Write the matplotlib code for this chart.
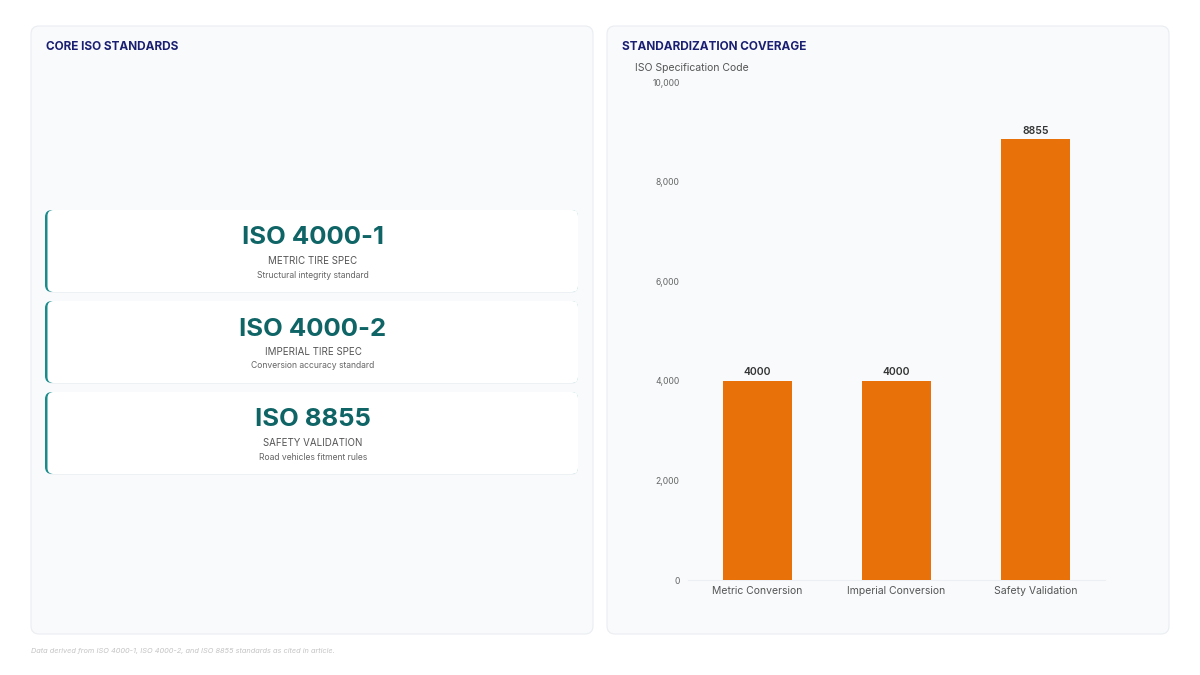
import matplotlib.pyplot as plt
from matplotlib.patches import FancyBboxPatch
from matplotlib.ticker import FuncFormatter

plt.rcParams['font.family'] = ['Inter', 'DejaVu Sans']

# data
categories = ["Metric Conversion", "Imperial Conversion", "Safety Validation"]
values = [4000, 4000, 8855]
codes = ["ISO 4000-1", "ISO 4000-2", "ISO 8855"]
names = ["METRIC TIRE SPEC", "IMPERIAL TIRE SPEC", "SAFETY VALIDATION"]
notes = ["Structural integrity standard", "Conversion accuracy standard",
         "Road vehicles fitment rules"]
yticks = [0, 2000, 4000, 6000, 8000, 10000]

W, H = 1200, 675
fig = plt.figure(figsize=(12, 6.75), dpi=100)
fig.patch.set_facecolor("white")

# background axes in pixel coords
bg = fig.add_axes([0, 0, 1, 1])
bg.set_xlim(0, W)
bg.set_ylim(H, 0)
bg.axis("off")

navy = "#1a1f71"
teal = "#0f6466"


def panel(x0, y0, x1, y1):
    bg.add_patch(FancyBboxPatch((x0, y0), x1 - x0, y1 - y0,
                                boxstyle="round,pad=0,rounding_size=8",
                                fc="#f8fafc", ec="#eaedf1", lw=0.8))


panel(31, 26, 593, 634)
panel(607, 26, 1169, 634)

bg.text(46, 47, "CORE ISO STANDARDS", fontsize=8.5, fontweight="bold",
        color=navy, va="center", ha="left")
bg.text(622, 47, "STANDARDIZATION COVERAGE", fontsize=8.5, fontweight="bold",
        color=navy, va="center", ha="left")

# standard cards
card_tops = [210, 301, 392]
card_h = 82
for i in range(len(codes)):
    top = card_tops[i]
    # soft shadow
    bg.add_patch(FancyBboxPatch((46, top + 1), 532, card_h,
                                boxstyle="round,pad=0,rounding_size=7",
                                fc="#eef1f4", ec="none"))
    bg.add_patch(FancyBboxPatch((45, top), 533, card_h,
                                boxstyle="round,pad=0,rounding_size=7",
                                fc="#1a8a8a", ec="none"))
    bg.add_patch(FancyBboxPatch((47.5, top), 530.5, card_h,
                                boxstyle="round,pad=0,rounding_size=6",
                                fc="white", ec="none"))
    cx = 313
    bg.text(cx, top + 28, codes[i], fontsize=18.5, fontweight="bold",
            color=teal, ha="center", va="center")
    bg.text(cx, top + 51, names[i], fontsize=7, color="#555555",
            ha="center", va="center")
    bg.text(cx, top + 65, notes[i], fontsize=6.2, color="#666666",
            ha="center", va="center")

# bar chart
ax_l, ax_r, ax_t, ax_b = 688, 1105, 82, 580
ax = fig.add_axes([ax_l / W, 1 - ax_b / H, (ax_r - ax_l) / W, (ax_b - ax_t) / H])
ax.set_facecolor("none")
x = range(len(categories))
bars = ax.bar(x, values, width=0.5, color="#e8710a", zorder=3)
ax.set_xlim(-0.5, 2.5)
ax.set_ylim(0, 10000)
ax.set_yticks(yticks)
ax.yaxis.set_major_formatter(FuncFormatter(lambda v, p: f"{int(v):,}"))
ax.set_xticks(list(x))
ax.set_xticklabels(categories)
ax.tick_params(axis="y", length=0, pad=6, labelsize=6.2, labelcolor="#666666")
ax.tick_params(axis="x", length=0, pad=4, labelsize=7.5, labelcolor="#555555")
for s in ["top", "right", "left"]:
    ax.spines[s].set_visible(False)
ax.spines["bottom"].set_color("#eceff3")

for b, v in zip(bars, values):
    ax.text(b.get_x() + b.get_width() / 2, v + 70, str(v), ha="center",
            va="bottom", fontsize=7.5, fontweight="semibold", color="#333333")

bg.text(635, 68, "ISO Specification Code", fontsize=7.5, color="#555555",
        ha="left", va="center")

bg.text(31, 651, "Data derived from ISO 4000-1, ISO 4000-2, and ISO 8855 standards as cited in article.",
        fontsize=5.3, style="italic", color="#c4c4c4", ha="left", va="center")

fig.savefig("out.png", dpi=100, facecolor="white")
